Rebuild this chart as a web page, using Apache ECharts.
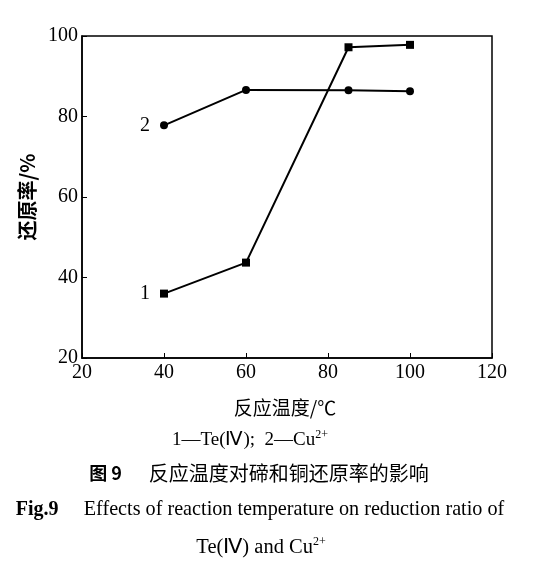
<!DOCTYPE html>
<html><head><meta charset="utf-8">
<script src="https://cdn.jsdelivr.net/npm/echarts@6/dist/echarts.min.js"></script>
<style>html,body{margin:0;padding:0;background:#fff}#c{width:535px;height:565px}</style>
</head><body><div id="c"></div>
<script>
var temps1 = [40, 60, 85, 100];
var te = [36, 43.7, 97.2, 97.8];
var temps2 = [40, 60, 85, 100];
var cu = [77.8, 86.6, 86.5, 86.3];
var seriesTags = ['1', '2'];
var xTicks = [20, 40, 60, 80, 100, 120];
var yTicks = [20, 40, 60, 80, 100];

function build(xs, ys, tag) {
  return xs.map(function (x, i) {
    var d = { value: [x, ys[i]] };
    if (i === 0) d.label = { show: true, position: 'left', distance: 10, formatter: tag,
      fontFamily: 'Liberation Serif', fontSize: 20, color: '#000' };
    return d;
  });
}
var serif = 'Liberation Serif';
var cjk = 'Noto Sans CJK SC';
var chart = echarts.init(document.getElementById('c'));
chart.setOption({
  animation: false,
  grid: { left: 82, right: 43, top: 36, bottom: 207, show: true, borderColor: '#000', borderWidth: 1.5 },
  xAxis: { type: 'value', min: xTicks[0], max: xTicks[xTicks.length - 1], interval: 20,
    axisLine: { lineStyle: { color: '#000', width: 1.5 } },
    axisTick: { inside: true, length: 5, lineStyle: { color: '#000' } },
    axisLabel: { color: '#000', fontFamily: serif, fontSize: 20, margin: 5 },
    splitLine: { show: false } },
  yAxis: { type: 'value', min: yTicks[0], max: yTicks[yTicks.length - 1], interval: 20,
    name: '还原率/%', nameLocation: 'middle', nameRotate: 90, nameGap: 44,
    nameTextStyle: { color: '#000', fontFamily: cjk, fontSize: 20, fontWeight: 'bold' },
    axisLine: { lineStyle: { color: '#000', width: 1.5 } },
    axisTick: { inside: true, length: 5, lineStyle: { color: '#000' } },
    axisLabel: { color: '#000', fontFamily: serif, fontSize: 20, margin: 4 },
    splitLine: { show: false } },
  title: [
    { text: '反应温度/℃', left: 280, top: 393, textAlign: 'center',
      textStyle: { fontFamily: cjk, fontSize: 19, fontWeight: 'normal', color: '#000' } },
    { text: '1—Te(Ⅳ);  2—Cu{s|2+}', left: 245, top: 424, textAlign: 'center',
      textStyle: { fontFamily: serif, fontSize: 19, fontWeight: 'normal', color: '#000',
        rich: { s: { fontFamily: serif, fontSize: 12, verticalAlign: 'top', padding: [0, 0, 10, 0], color: '#000' } } } },
    { text: '{b|图 9}      反应温度对碲和铜还原率的影响', left: 254, top: 458, textAlign: 'center',
      textStyle: { fontFamily: cjk, fontSize: 20, fontWeight: 'normal', color: '#000',
        rich: { b: { fontFamily: cjk, fontSize: 18, fontWeight: 'bold', color: '#000' } } } },
    { text: '{b|Fig.9}     Effects of reaction temperature on reduction ratio of', left: 255, top: 495, textAlign: 'center',
      textStyle: { fontFamily: serif, fontSize: 20.2, fontWeight: 'normal', color: '#000',
        rich: { b: { fontFamily: serif, fontSize: 20, fontWeight: 'bold', color: '#000' } } } },
    { text: 'Te(Ⅳ) and Cu{s|2+}', left: 256, top: 531, textAlign: 'center',
      textStyle: { fontFamily: serif, fontSize: 20.5, fontWeight: 'normal', color: '#000',
        rich: { s: { fontFamily: serif, fontSize: 12, verticalAlign: 'top', padding: [0, 0, 11, 0], color: '#000' } } } }
  ],
  series: [
    { type: 'line', data: build(temps1, te, seriesTags[0]), symbol: 'rect', symbolSize: 8,
      lineStyle: { color: '#000', width: 2 }, itemStyle: { color: '#000' } },
    { type: 'line', data: build(temps2, cu, seriesTags[1]), symbol: 'circle', symbolSize: 8,
      lineStyle: { color: '#000', width: 2 }, itemStyle: { color: '#000' } }
  ]
});
</script></body></html>
